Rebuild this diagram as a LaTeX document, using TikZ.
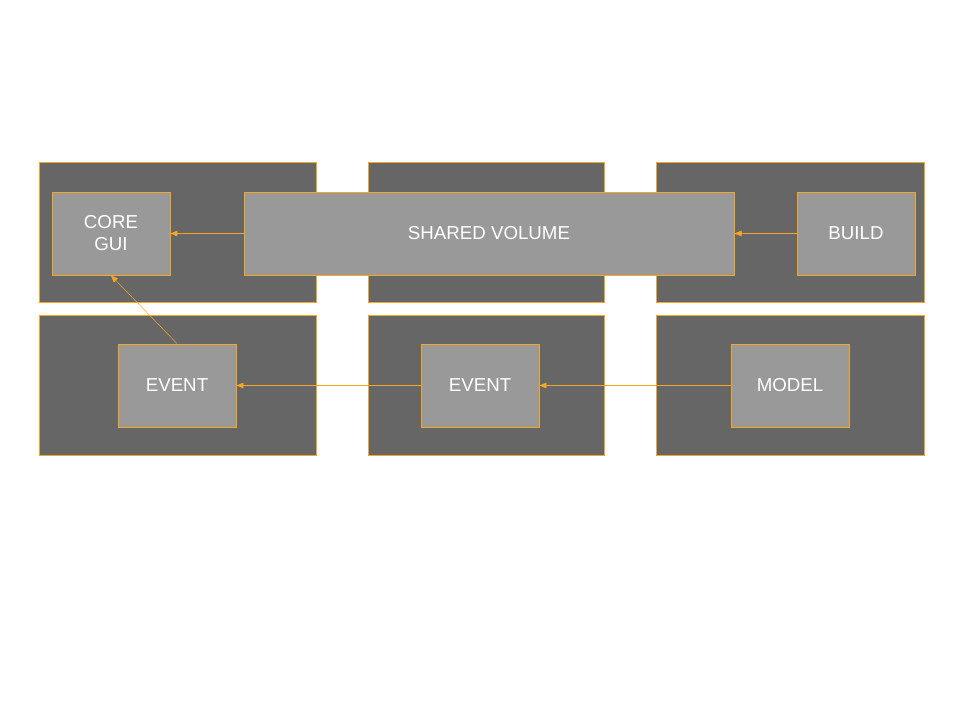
\documentclass[tikz,border=0pt]{standalone}
\usepackage{fontspec}
\setmainfont{Liberation Sans}
\usetikzlibrary{arrows.meta}
\definecolor{panelgray}{HTML}{666666}
\definecolor{boxgray}{HTML}{999999}
\definecolor{wire}{HTML}{F5A623}

\begin{document}
\begin{tikzpicture}[x=0.025cm,y=-0.025cm,
  panel/.style={draw=wire,fill=panelgray,line width=0.6pt,minimum height=3.5cm,inner sep=0pt},
  unit/.style={draw=wire,fill=boxgray,line width=0.6pt,minimum width=2.95cm,minimum height=2.075cm,
    text=white,align=center,font=\fontsize{13.3}{15.6}\selectfont,inner sep=0pt},
  link/.style={draw=wire,line width=0.35pt,-{Triangle[width=4pt,length=5pt]}}]
\useasboundingbox[fill=white] (0,0) rectangle (960,720);

% panels
\node[panel,minimum width=6.925cm] (tl) at (177.5,232) {};
\node[panel,minimum width=5.9cm] (tm) at (486,232) {};
\node[panel,minimum width=6.7cm] (tr) at (790,232) {};
\node[panel,minimum width=6.925cm] (bl) at (177.5,385) {};
\node[panel,minimum width=5.9cm] (bm) at (486,385) {};
\node[panel,minimum width=6.7cm] (br) at (790,385) {};

% boxes
\node[unit] (core) at (111,233.5) {CORE\\GUI};
\node[unit,minimum width=12.25cm] (shared) at (489,233.5) {SHARED VOLUME};
\node[unit] (build) at (856,233.5) {BUILD};
\node[unit] (eventl) at (177,385.5) {EVENT};
\node[unit] (eventm) at (480,385.5) {EVENT};
\node[unit] (model) at (790,385.5) {MODEL};

\draw[link] (shared) -- (core);
\draw[link] (build) -- (shared);
\draw[link] (model) -- (eventm);
\draw[link] (eventm) -- (eventl);
\draw[link] (eventl.north) -- (core.south);
\end{tikzpicture}
\end{document}
